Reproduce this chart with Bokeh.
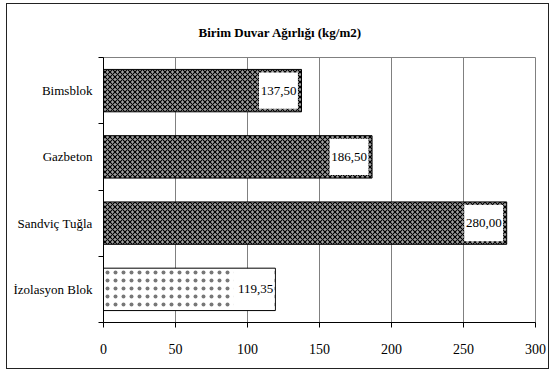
from bokeh.plotting import figure
from bokeh.models import Range1d, FixedTicker, ColumnDataSource
from bokeh.core.properties import value
from bokeh.embed import file_html
from bokeh.resources import INLINE

# ---- data ----
title_text = "Birim Duvar Ağırlığı (kg/m2)"
categories = ["Bimsblok", "Gazbeton", "Sandviç Tuğla", "İzolasyon Blok"]
weights = [137.50, 186.50, 280.00, 119.35]
x_ticks = [0, 50, 100, 150, 200, 250, 300]

FONT = "'Liberation Serif', 'Times New Roman', serif"
n = len(categories)
ys = [n - i - 0.5 for i in range(n)]
labels = [f"{v:.2f}".replace(".", ",") for v in weights]

p = figure(width=543, height=366, output_backend="svg", toolbar_location=None,
           x_range=Range1d(0, 300), y_range=Range1d(0, n),
           min_border_left=96, min_border_right=15, min_border_top=53, min_border_bottom=48,
           styles={"border": "1.5px solid #222222", "margin-left": "6px", "margin-top": "3px",
                   "box-sizing": "border-box"})
p.title.text = title_text
p.title.align = "left"
p.title.offset = 95
p.title.standoff = 35
p.title.text_font = FONT
p.title.text_font_size = "13px"
p.title.text_font_style = "bold"
p.title.text_color = "black"

p.background_fill_color = "white"
p.border_fill_color = "white"
p.outline_line_color = "#808080"
p.outline_line_width = 1

# grid
p.ygrid.grid_line_color = None
p.xgrid.grid_line_color = "#808080"
p.xgrid.grid_line_width = 1

# x axis
p.xaxis.ticker = FixedTicker(ticks=x_ticks)
p.xaxis.axis_line_color = "black"
p.xaxis.major_tick_line_color = "black"
p.xaxis.major_tick_out = 5
p.xaxis.major_tick_in = 0
p.xaxis.minor_tick_line_color = None
p.xaxis.major_label_standoff = 16
p.xaxis.major_label_text_font = FONT
p.xaxis.major_label_text_font_size = "14px"
p.xaxis.major_label_text_color = "black"

# y axis: labels centered on categories, ticks between categories
p.yaxis.ticker = FixedTicker(ticks=ys, minor_ticks=list(range(n + 1)))
p.yaxis.major_label_overrides = {y: c for y, c in zip(ys, categories)}
p.yaxis.axis_line_color = "black"
p.yaxis.major_tick_out = 0
p.yaxis.major_tick_in = 0
p.yaxis.minor_tick_out = 5
p.yaxis.minor_tick_in = 0
p.yaxis.minor_tick_line_color = "black"
p.yaxis.major_label_standoff = 6
p.yaxis.major_label_text_font = FONT
p.yaxis.major_label_text_font_size = "13px"
p.yaxis.major_label_text_color = "black"

dark = ColumnDataSource(dict(y=ys[:3], v=weights[:3], lab=labels[:3]))
light = ColumnDataSource(dict(y=ys[3:], v=weights[3:], lab=labels[3:]))

BAR_H = 0.64
p.hbar(y="y", left=0, right="v", height=BAR_H, source=dark,
       fill_color="#a0a0a0", line_color="black", line_width=1,
       hatch_pattern="x", hatch_color="black", hatch_scale=5, hatch_weight=1.1)
p.hbar(y="y", left=0, right="v", height=BAR_H, source=light,
       fill_color="white", line_color="black", line_width=1,
       hatch_pattern="dot", hatch_color="#777777", hatch_scale=8, hatch_weight=1)

# white label boxes
dark.data["bl"] = [v - 29.5 for v in weights[:3]]
dark.data["br"] = [v - 2.5 for v in weights[:3]]
light.data["bl"] = [v - 29.3 for v in weights[3:]]
light.data["br"] = [v - 0.6 for v in weights[3:]]
p.hbar(y="y", left="bl", right="br", height=0.55, source=dark,
       fill_color="white", line_color=None)
p.hbar(y="y", left="bl", right="br", height=BAR_H - 0.03, source=light,
       fill_color="white", line_color=None)

p.text(x="v", y="y", text="lab", source=dark, x_offset=-5,
       text_align="right", text_baseline="middle",
       text_font=value(FONT), text_font_size="13px", text_color="black")
p.text(x="v", y="y", text="lab", source=light, x_offset=-2,
       text_align="right", text_baseline="middle",
       text_font=value(FONT), text_font_size="13px", text_color="black")

open("out.html", "w").write(file_html(p, INLINE))
